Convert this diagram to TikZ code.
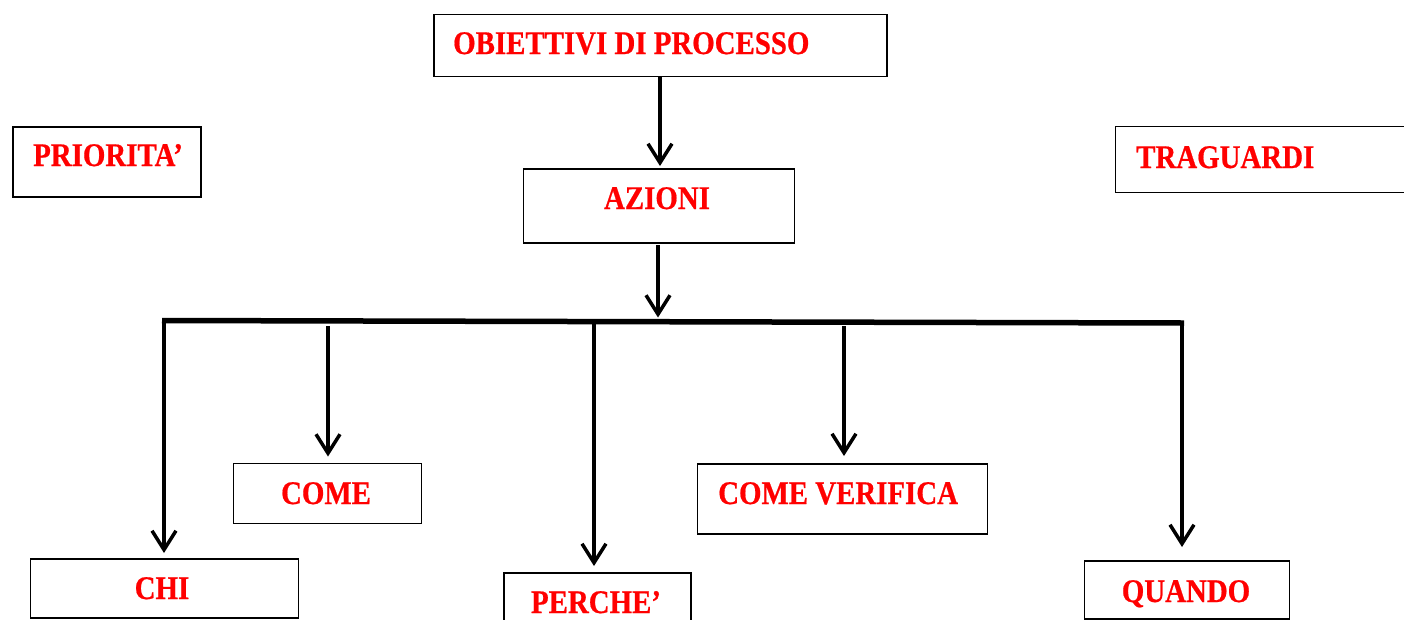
\documentclass[tikz,border=0pt]{standalone}
\usepackage{fontspec}
\setmainfont[FakeStretch=0.875,FakeBold=0.6]{Liberation Serif}
\usetikzlibrary{arrows.meta}
\definecolor{txtred}{RGB}{255,0,0}
\tikzset{
  box/.style={draw=black, line width=1.7pt, fill=white, rectangle, inner sep=0pt, anchor=north west},
  lbl/.style={text=txtred, font=\fontsize{33}{36}\selectfont\bfseries, inner sep=0pt},
  arr/.style={draw=black, line width=3.5pt, -{Straight Barb[length=19pt,width=24pt,line width=3.5pt]}},
  barline/.style={draw=black, line width=5.5pt}
}
\begin{document}
\begin{tikzpicture}[x=1pt,y=-1pt]
\useasboundingbox (0,0) rectangle (1404,619);
% boxes
\node[box, minimum width=453, minimum height=62] (obj) at (433,13.5) {};
\node[lbl, anchor=base west] (objt) at (453,54) {OBIETTIVI DI PROCESSO};
\node[box, minimum width=271, minimum height=74] (az) at (522.5,168) {};
\node[lbl, anchor=base] (azt) at (657,209) {AZIONI};
\node[box, minimum width=188, minimum height=70] (pri) at (12,126) {};
\node[lbl, anchor=base west] (prit) at (33,166) {PRIORITA’};
\node[box, minimum width=300, minimum height=66] (tra) at (1114.5,125.5) {};
\node[lbl, anchor=base west] (trat) at (1136,168) {TRAGUARDI};
\node[box, minimum width=268, minimum height=59] (chi) at (29.5,558) {};
\node[lbl, anchor=base] (chit) at (162,599) {CHI};
\node[box, minimum width=188, minimum height=60] (come) at (232.5,462.5) {};
\node[lbl, anchor=base] (comet) at (326,504) {COME};
\node[box, minimum width=187, minimum height=60] (perc) at (503,572) {};
\node[lbl, anchor=base] (perct) at (596,613) {PERCHE’};
\node[box, minimum width=290, minimum height=70] (ver) at (696.5,463) {};
\node[lbl, anchor=base west] (vert) at (718,504) {COME VERIFICA};
\node[box, minimum width=205, minimum height=58] (qua) at (1083.5,560) {};
\node[lbl, anchor=base] (quat) at (1186,602) {QUANDO};
% top connectors
\coordinate (o1) at (660,77);
\coordinate (a1) at (658,245);
\coordinate (bl) at (162,320.5);
\coordinate (br) at (1184,323);
\coordinate (bm) at (658,321.5);
\draw[arr, shorten >=2pt] (o1) -- (o1 |- az.north);
\draw[arr, shorten >=4pt] (a1) -- (bm);
% bar
\draw[barline] (bl) -- (br);
% branch connectors
\coordinate (c1) at (164,320.5);
\coordinate (c2) at (328,326);
\coordinate (c3) at (594,322);
\coordinate (c4) at (844,326);
\coordinate (c5) at (1182,323);
\draw[arr, shorten >=5pt] (c1) -- (c1 |- chi.north);
\draw[arr, shorten >=6pt] (c2) -- (c2 |- come.north);
\draw[arr, shorten >=6pt] (c3) -- (c3 |- perc.north);
\draw[arr, shorten >=7pt] (c4) -- (c4 |- ver.north);
\draw[arr, shorten >=13pt] (c5) -- (c5 |- qua.north);
\end{tikzpicture}
\end{document}
